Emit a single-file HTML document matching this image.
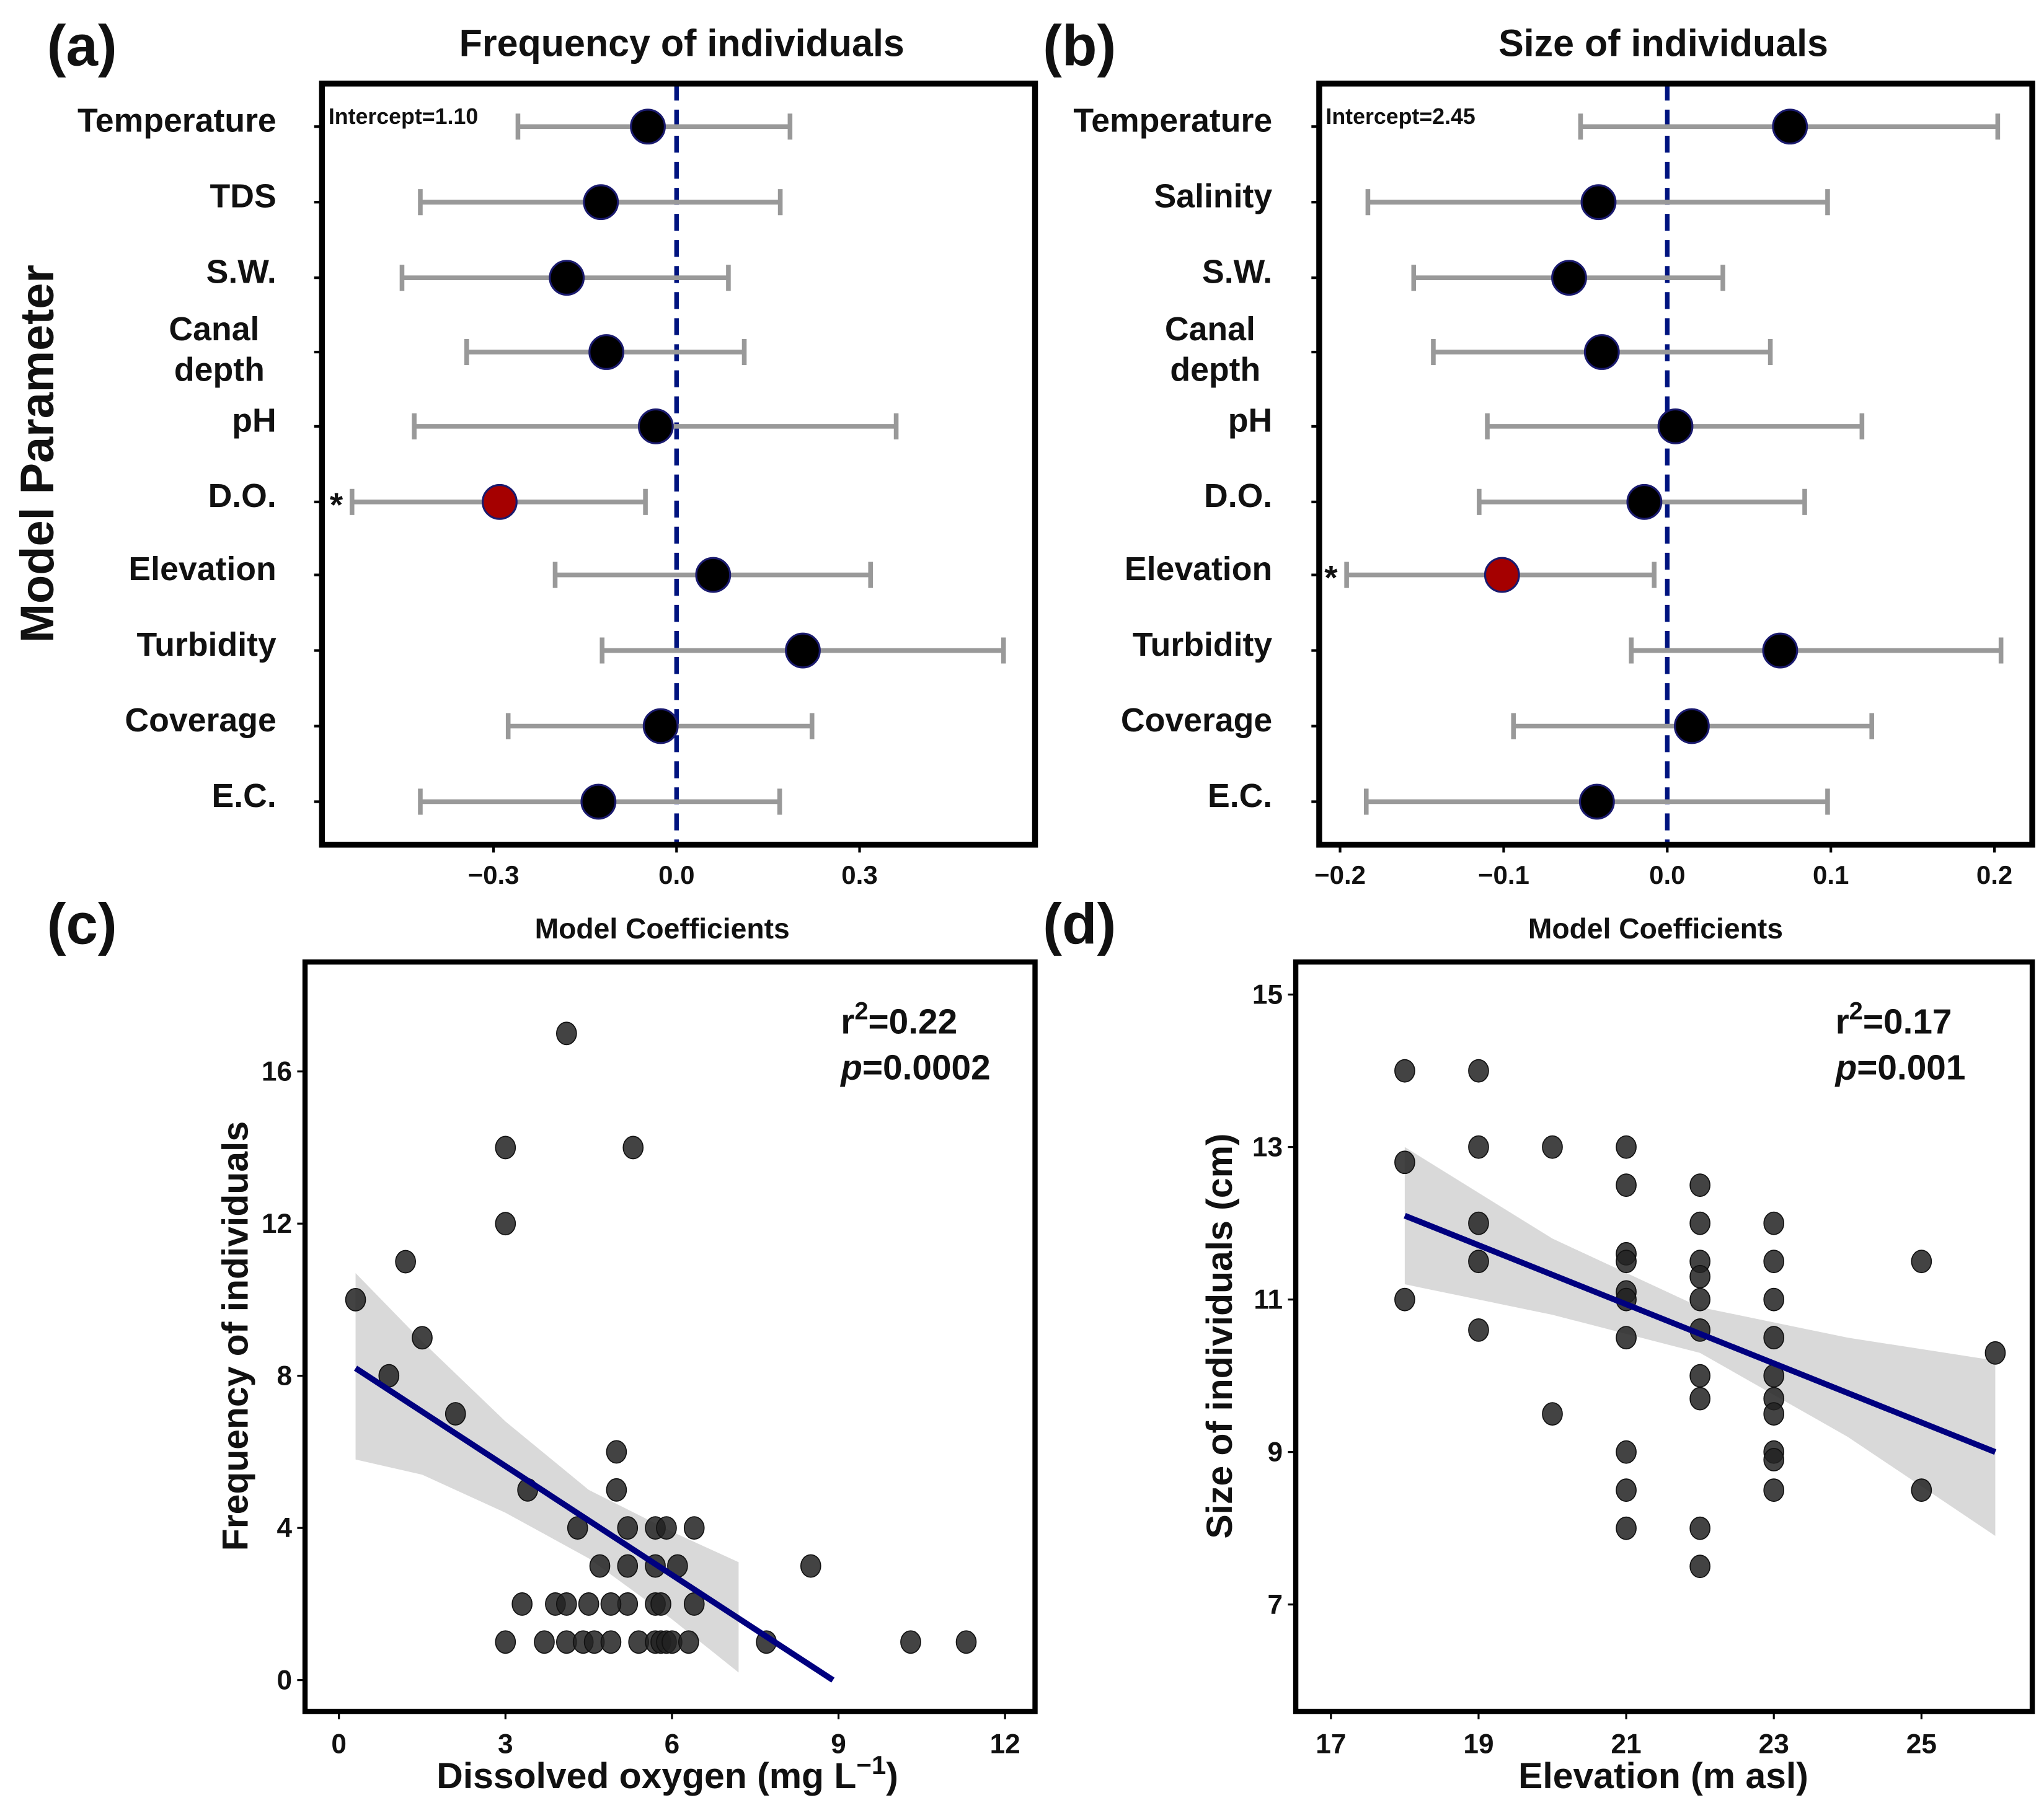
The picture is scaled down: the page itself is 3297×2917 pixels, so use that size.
<!DOCTYPE html>
<html><head><meta charset="utf-8"><style>
html,body{margin:0;padding:0;background:#fff}
svg{display:block}
text{font-family:"Liberation Sans",Arial,sans-serif;font-weight:bold;fill:#111}
</style></head><body>
<svg id="fig" width="3297" height="2917" viewBox="0 0 1568 1387" xmlns="http://www.w3.org/2000/svg">
<g id="root"></g>
</svg>
<script>
// Panel (a) data
const aLabels = ["Temperature","TDS","S.W.","Canal|depth","pH","D.O.","Elevation","Turbidity","Coverage","E.C."];
const aEst = [-0.047,-0.124,-0.18,-0.115,-0.034,-0.29,0.06,0.207,-0.026,-0.128];
const aLo = [-0.26,-0.42,-0.45,-0.344,-0.43,-0.532,-0.199,-0.122,-0.276,-0.42];
const aHi = [0.186,0.17,0.085,0.111,0.36,-0.051,0.318,0.536,0.222,0.169];
const aSig = [0,0,0,0,0,1,0,0,0,0];
const aTicks = [-0.3,0.0,0.3];
const aTickLabels = ["\u22120.3","0.0","0.3"];
// Panel (b) data
const bLabels = ["Temperature","Salinity","S.W.","Canal|depth","pH","D.O.","Elevation","Turbidity","Coverage","E.C."];
const bEst = [0.075,-0.042,-0.06,-0.04,0.005,-0.014,-0.101,0.069,0.015,-0.043];
const bLo = [-0.053,-0.183,-0.155,-0.143,-0.11,-0.115,-0.196,-0.022,-0.094,-0.184];
const bHi = [0.202,0.098,0.034,0.063,0.119,0.084,-0.008,0.204,0.125,0.098];
const bSig = [0,0,0,0,0,0,1,0,0,0];
const bTicks = [-0.2,-0.1,0.0,0.1,0.2];
const bTickLabels = ["\u22120.2","\u22120.1","0.0","0.1","0.2"];
// Panel (c) data
const cX = [0.3,0.9,1.2,1.5,2.1,3,3,3.4,4.1,4.3,5.3,5,5,5.2,5.7,5.9,6.4,4.7,5.2,5.7,6.1,8.5,3.3,3.9,4.1,4.5,5.2,5.7,5.8,6.4,4.9,3,3.7,4.1,4.4,4.6,4.9,5.4,5.7,5.8,5.9,6.0,6.3,7.7,10.3,11.3];
const cY = [10,8,11,9,7,14,12,5,17,4,14,6,5,4,4,4,4,3,3,3,3,3,2,2,2,2,2,2,2,2,2,1,1,1,1,1,1,1,1,1,1,1,1,1,1,1];
const cLineX = [0.3,8.9];
const cLineY = [8.2,0];
const cBandX = [0.3,1.5,3,4.5,6,7.2];
const cBandUp = [10.7,8.9,6.8,5.0,3.9,3.1];
const cBandLo = [5.8,5.4,4.4,3.2,1.6,0.2];
const cXTicks = [0,3,6,9,12];
const cYTicks = [0,4,8,12,16];
// Panel (d) data
const dX = [18,18,18,19,19,19,19,19,20,20,21,21,21,21,21,21,21,21,21,21,22,22,22,22,22,22,22,22,22,22,23,23,23,23,23,23,23,23,23,23,25,25,26];
const dY = [14,12.8,11,14,13,12,11.5,10.6,13,9.5,13,12.5,11.6,11.5,11.1,11,10.5,9,8.5,8,12.5,12,11.5,11.3,11,10.6,10,9.7,8,7.5,12,11.5,11,10.5,10,9.7,9.5,9,8.9,8.5,11.5,8.5,10.3];
const dLineX = [18,26];
const dLineY = [12.1,9.0];
const dBandX = [18,20,22,24,26];
const dBandUp = [13.0,11.8,10.9,10.5,10.2];
const dBandLo = [11.2,10.8,10.3,9.2,7.9];
const dXTicks = [17,19,21,23,25];
const dYTicks = [7,9,11,13,15];

const NS="http://www.w3.org/2000/svg";
const root=document.getElementById('root');
function el(tag,attrs,parent,txt){const e=document.createElementNS(NS,tag);for(const k in attrs)e.setAttribute(k,attrs[k]);if(txt!==undefined)e.textContent=txt;(parent||root).appendChild(e);return e;}
function lin(d0,d1,r0,r1){return v=>r0+(v-d0)*(r1-r0)/(d1-d0);}

const rowsY=[97,155,213,270,327,385,441,499,557,615];
function coefPanel(p){
  const g=el('g',{});
  
  
  const sx=lin(0,1,p.zero,p.zero+p.unit);
  const z=el('line',{x1:sx(0),x2:sx(0),y1:p.y0,y2:p.y1,stroke:'#00137f','stroke-width':3.5,'stroke-dasharray':'13,7'},g);
  
  
  for(let i=0;i<p.labels.length;i++){
    const y=rowsY[i];
    const eb=el('g',{},g);
    
    
    el('line',{x1:sx(p.lo[i]),x2:sx(p.hi[i]),y1:y,y2:y,stroke:'#999','stroke-width':3.6},eb);
    el('line',{x1:sx(p.lo[i]),x2:sx(p.lo[i]),y1:y-10,y2:y+10,stroke:'#999','stroke-width':3.6},eb);
    el('line',{x1:sx(p.hi[i]),x2:sx(p.hi[i]),y1:y-10,y2:y+10,stroke:'#999','stroke-width':3.6},eb);
    const c=el('circle',{cx:sx(p.est[i]),cy:y,r:13,fill:p.sig[i]?'#a50000':'#000',stroke:'#1a1a6e','stroke-width':1.5},g);
    
    
    if(p.sig[i]){const s=el('text',{x:sx(p.lo[i])-12,y:y+11,'font-size':26,'text-anchor':'middle'},g,'*');
      }
    el('line',{x1:p.x0-6,x2:p.x0,y1:y,y2:y,stroke:'#000','stroke-width':2},g);
    const parts=p.labels[i].split('|');
    const lt=el('text',{x:p.labelX,y:parts.length>1?y-9:y+4,'font-size':25.5,'text-anchor':'end'},g);
    
    
    if(parts.length>1){
      el('tspan',{x:p.labelX-13,dy:0},lt,parts[0]);
      el('tspan',{x:p.labelX-9,dy:31},lt,parts[1]);
    } else lt.textContent=parts[0];
  }
  for(let i=0;i<p.ticks.length;i++){
    const x=sx(p.ticks[i]);
    el('line',{x1:x,x2:x,y1:p.y1,y2:p.y1+6,stroke:'#000','stroke-width':2},g);
    const t=el('text',{x:x,y:p.y1+30,'font-size':20,'text-anchor':'middle'},g,p.tickLabels[i]);
    
  }
  const ic=el('text',{x:p.x0+5,y:95,'font-size':17},g,p.intercept);
  
  const b=el('rect',{x:p.x0,y:p.y0,width:p.x1-p.x0,height:p.y1-p.y0,fill:'none',stroke:'#000','stroke-width':4.5},g);
  
}
coefPanel({name:'a',labels:aLabels,est:aEst,lo:aLo,hi:aHi,sig:aSig,ticks:aTicks,tickLabels:aTickLabels,zero:519,unit:468,x0:247,x1:794,y0:64,y1:648,labelX:212,intercept:'Intercept=1.10'});
coefPanel({name:'b',labels:bLabels,est:bEst,lo:bLo,hi:bHi,sig:bSig,ticks:bTicks,tickLabels:bTickLabels,zero:1279,unit:1255,x0:1012,x1:1559,y0:64,y1:648,labelX:976,intercept:'Intercept=2.45'});

function scatterPanel(p){
  const g=el('g',{});
  
  
  const sx=lin(p.xd[0],p.xd[1],p.xr[0],p.xr[1]);
  const sy=lin(p.yd[0],p.yd[1],p.yr[0],p.yr[1]);
  let pts=[];
  for(let i=0;i<p.bx.length;i++)pts.push(sx(p.bx[i])+','+sy(p.bu[i]));
  for(let i=p.bx.length-1;i>=0;i--)pts.push(sx(p.bx[i])+','+sy(p.bl[i]));
  const band=el('polygon',{points:pts.join(' '),fill:'#d9d9d9'},g);
  
  for(let i=0;i<p.x.length;i++){
    const c=el('ellipse',{cx:sx(p.x[i]),cy:sy(p.y[i]),rx:7.6,ry:8.6,fill:'#222','fill-opacity':0.85,stroke:'#111','stroke-width':0.8},g);
    
  }
  const l=el('line',{x1:sx(p.lx[0]),y1:sy(p.ly[0]),x2:sx(p.lx[1]),y2:sy(p.ly[1]),stroke:'#00007f','stroke-width':4.5},g);
  
  for(const v of p.xt){const x=sx(v);
    el('line',{x1:x,x2:x,y1:p.box[3],y2:p.box[3]+6,stroke:'#000','stroke-width':1.5},g);
    const t=el('text',{x:x,y:p.box[3]+32,'font-size':21,'text-anchor':'middle'},g,String(v));
    }
  for(const v of p.yt){const y=sy(v);
    el('line',{x1:p.box[0]-6,x2:p.box[0],y1:y,y2:y,stroke:'#000','stroke-width':1.5},g);
    const t=el('text',{x:p.box[0]-10,y:y+7,'font-size':21,'text-anchor':'end'},g,String(v));
    }
  const b=el('rect',{x:p.box[0],y:p.box[1],width:p.box[2]-p.box[0],height:p.box[3]-p.box[1],fill:'none',stroke:'#000','stroke-width':4},g);
  
  const s=el('text',{x:p.statX,y:793,'font-size':27},g);
  
  el('tspan',{},s,'r');el('tspan',{dy:-11,'font-size':19},s,'2');el('tspan',{dy:11},s,'='+p.r2);
  const s2=el('text',{x:p.statX,y:828,'font-size':27},g);
  
  el('tspan',{'font-style':'italic'},s2,'p');el('tspan',{},s2,'='+p.pv);
}
scatterPanel({name:'c',x:cX,y:cY,lx:cLineX,ly:cLineY,bx:cBandX,bu:cBandUp,bl:cBandLo,xt:cXTicks,yt:cYTicks,
  xd:[0,12],xr:[260,771],yd:[0,16],yr:[1289,822],box:[234,738,794,1313],statX:645,r2:'0.22',pv:'0.0002'});
scatterPanel({name:'d',x:dX,y:dY,lx:dLineX,ly:dLineY,bx:dBandX,bu:dBandUp,bl:dBandLo,xt:dXTicks,yt:dYTicks,
  xd:[17,25],xr:[1021,1474],yd:[7,15],yr:[1231,763],box:[994,738,1559,1313],statX:1408,r2:'0.17',pv:'0.001'});

function txt(name,attrs,s){const t=el('text',attrs,root,s);return t;}
txt('panel-label-a',{x:36,y:50,'font-size':44},'(a)');
txt('panel-label-b',{x:800,y:50,'font-size':44},'(b)');
txt('panel-label-c',{x:36,y:724,'font-size':44},'(c)');
txt('panel-label-d',{x:800,y:724,'font-size':44},'(d)');
txt('title-frequency',{x:523,y:43,'font-size':29,'text-anchor':'middle'},'Frequency of individuals');
txt('title-size',{x:1276,y:43,'font-size':29,'text-anchor':'middle'},'Size of individuals');
txt('y-axis-title-model-parameter',{x:0,y:0,'font-size':36,'text-anchor':'middle',transform:'translate(41,348) rotate(-90)'},'Model Parameter');
txt('x-axis-title-a',{x:508,y:720,'font-size':22,'text-anchor':'middle'},'Model Coefficients');
txt('x-axis-title-b',{x:1270,y:720,'font-size':22,'text-anchor':'middle'},'Model Coefficients');
txt('y-axis-title-c',{x:0,y:0,'font-size':28,'text-anchor':'middle',transform:'translate(190,1025) rotate(-90)'},'Frequency of individuals');
txt('y-axis-title-d',{x:0,y:0,'font-size':28,'text-anchor':'middle',transform:'translate(945,1025) rotate(-90)'},'Size of individuals (cm)');
const xc=txt('x-axis-title-c',{x:512,y:1372,'font-size':28,'text-anchor':'middle'},'');
el('tspan',{},xc,'Dissolved oxygen (mg L');el('tspan',{dy:-11,'font-size':20},xc,'\u22121');el('tspan',{dy:11},xc,')');
txt('x-axis-title-d',{x:1276,y:1372,'font-size':28,'text-anchor':'middle'},'Elevation (m asl)');
</script>
</body></html>
